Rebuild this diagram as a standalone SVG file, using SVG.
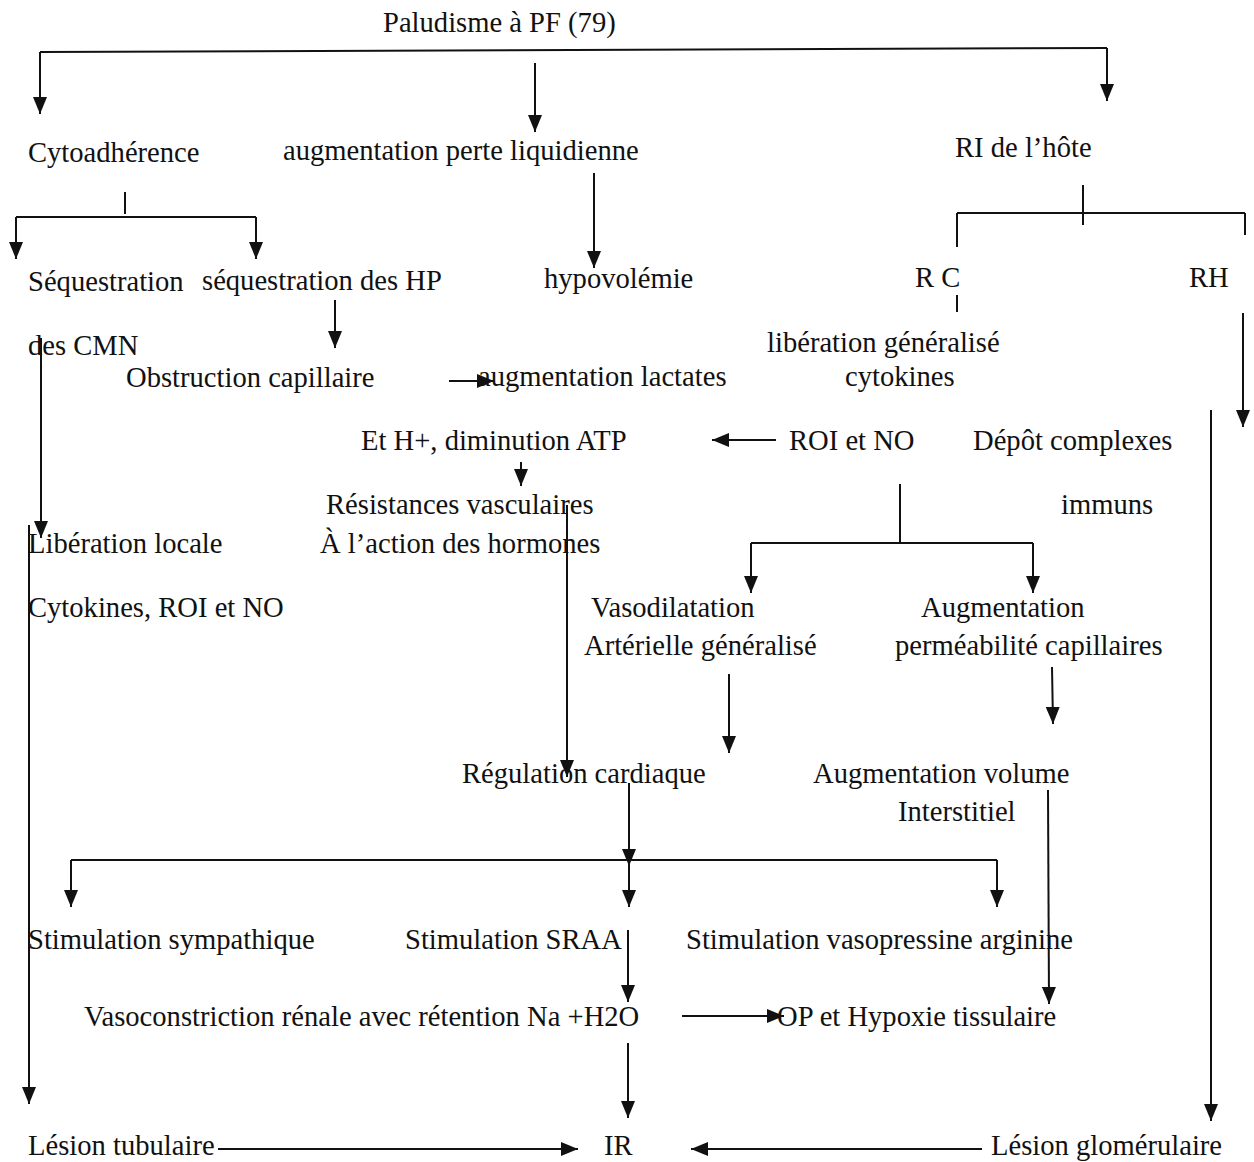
<svg xmlns="http://www.w3.org/2000/svg" width="1254" height="1162" viewBox="0 0 1254 1162">
<defs>
<style>
text{font-family:"Liberation Serif","Times New Roman",serif;font-size:28.6px;fill:#111}
.c line{stroke:#111;stroke-width:2;fill:none}
.a{marker-end:url(#ah)}
</style>
<marker id="ah" markerUnits="userSpaceOnUse" markerWidth="17" markerHeight="14" refX="17" refY="7" orient="auto">
<path d="M0,0 L17,7 L0,14 z" fill="#111"/>
</marker>
</defs>
<rect width="1254" height="1162" fill="#fff"/>
<g class="c" id="connectors">
<line x1="40" y1="52" x2="1107" y2="48"/>
<line class="a" x1="40" y1="52" x2="40" y2="114"/>
<line class="a" x1="1107" y1="48" x2="1107" y2="101"/>
<line class="a" x1="535" y1="63" x2="535" y2="132"/>
<line x1="125" y1="192" x2="125" y2="214"/>
<line x1="16" y1="217" x2="256" y2="217"/>
<line class="a" x1="16" y1="217" x2="16" y2="259"/>
<line class="a" x1="256" y1="217" x2="256" y2="259"/>
<line class="a" x1="594" y1="173" x2="594" y2="268"/>
<line x1="1083" y1="185" x2="1083" y2="225"/>
<line x1="957" y1="213" x2="1245" y2="213"/>
<line x1="957" y1="213" x2="957" y2="247"/>
<line x1="1245" y1="213" x2="1245" y2="235"/>
<line x1="957" y1="295" x2="957" y2="312"/>
<line class="a" x1="1243" y1="313" x2="1243" y2="427"/>
<line class="a" x1="1211" y1="410" x2="1211" y2="1121"/>
<line class="a" x1="335" y1="300" x2="335" y2="348"/>
<line class="a" x1="41" y1="338" x2="41" y2="538"/>
<line class="a" x1="29" y1="525" x2="29" y2="1104"/>
<line class="a" x1="449" y1="381" x2="494" y2="381"/>
<line class="a" x1="521" y1="462" x2="521" y2="486"/>
<line class="a" x1="567" y1="505" x2="567" y2="777"/>
<line class="a" x1="776" y1="440" x2="712" y2="440"/>
<line x1="900" y1="484" x2="900" y2="543"/>
<line x1="751" y1="543" x2="1033" y2="543"/>
<line class="a" x1="751" y1="543" x2="751" y2="593"/>
<line class="a" x1="1033" y1="543" x2="1033" y2="593"/>
<line class="a" x1="729" y1="674" x2="729" y2="753"/>
<line class="a" x1="1052" y1="667" x2="1053" y2="724"/>
<line class="a" x1="1048" y1="790" x2="1049" y2="1004"/>
<line class="a" x1="629" y1="783" x2="629" y2="866"/>
<line x1="71" y1="860" x2="997" y2="860"/>
<line class="a" x1="71" y1="860" x2="71" y2="907"/>
<line class="a" x1="629" y1="860" x2="629" y2="907"/>
<line class="a" x1="997" y1="860" x2="997" y2="907"/>
<line class="a" x1="628" y1="930" x2="628" y2="1002"/>
<line class="a" x1="682" y1="1016" x2="784" y2="1016"/>
<line class="a" x1="628" y1="1043" x2="628" y2="1118"/>
<line class="a" x1="218" y1="1149" x2="578" y2="1149"/>
<line class="a" x1="982" y1="1149" x2="691" y2="1149"/>
</g>
<g id="n-paludisme"><text x="383" y="32">Paludisme à PF (79)</text></g>
<g id="n-cytoadherence"><text x="28" y="162">Cytoadhérence</text></g>
<g id="n-perte"><text x="283" y="160">augmentation perte liquidienne</text></g>
<g id="n-ri"><text x="955" y="157">RI de l’hôte</text></g>
<g id="n-seqcmn"><text x="28" y="291">Séquestration</text><text x="28" y="355">des CMN</text></g>
<g id="n-seqhp"><text x="202" y="290">séquestration des HP</text></g>
<g id="n-hypovolemie"><text x="544" y="288">hypovolémie</text></g>
<g id="n-rc"><text x="915" y="287">R C</text></g>
<g id="n-rh"><text x="1189" y="287">RH</text></g>
<g id="n-liberation-gen"><text x="767" y="352">libération généralisé</text><text x="845" y="386">cytokines</text></g>
<g id="n-obstruction"><text x="126" y="387">Obstruction capillaire</text></g>
<g id="n-lactates"><text x="478" y="386">augmentation lactates</text><text x="361" y="450">Et H+, diminution ATP</text></g>
<g id="n-roi"><text x="789" y="450">ROI et NO</text></g>
<g id="n-depot"><text x="973" y="450">Dépôt complexes</text><text x="1061" y="514">immuns</text></g>
<g id="n-resistances"><text x="326" y="514">Résistances vasculaires</text><text x="320" y="553">À l’action des hormones</text></g>
<g id="n-liberation-loc"><text x="28" y="553">Libération locale</text><text x="28" y="617">Cytokines, ROI et NO</text></g>
<g id="n-vasodilatation"><text x="591" y="617">Vasodilatation</text><text x="584" y="655">Artérielle généralisé</text></g>
<g id="n-permeabilite"><text x="921" y="617">Augmentation</text><text x="895" y="655">perméabilité capillaires</text></g>
<g id="n-regulation"><text x="462" y="783">Régulation cardiaque</text></g>
<g id="n-volume"><text x="813" y="783">Augmentation volume</text><text x="898" y="821">Interstitiel</text></g>
<g id="n-sympathique"><text x="28" y="949">Stimulation sympathique</text></g>
<g id="n-sraa"><text x="405" y="949">Stimulation SRAA</text></g>
<g id="n-vasopressine"><text x="686" y="949">Stimulation vasopressine arginine</text></g>
<g id="n-vasoconstriction"><text x="84" y="1026">Vasoconstriction rénale avec rétention Na +H2O</text></g>
<g id="n-op"><text x="777" y="1026">OP et Hypoxie tissulaire</text></g>
<g id="n-tubulaire"><text x="28" y="1155">Lésion tubulaire</text></g>
<g id="n-ir"><text x="604" y="1155">IR</text></g>
<g id="n-glomerulaire"><text x="991" y="1155">Lésion glomérulaire</text></g>
</svg>
